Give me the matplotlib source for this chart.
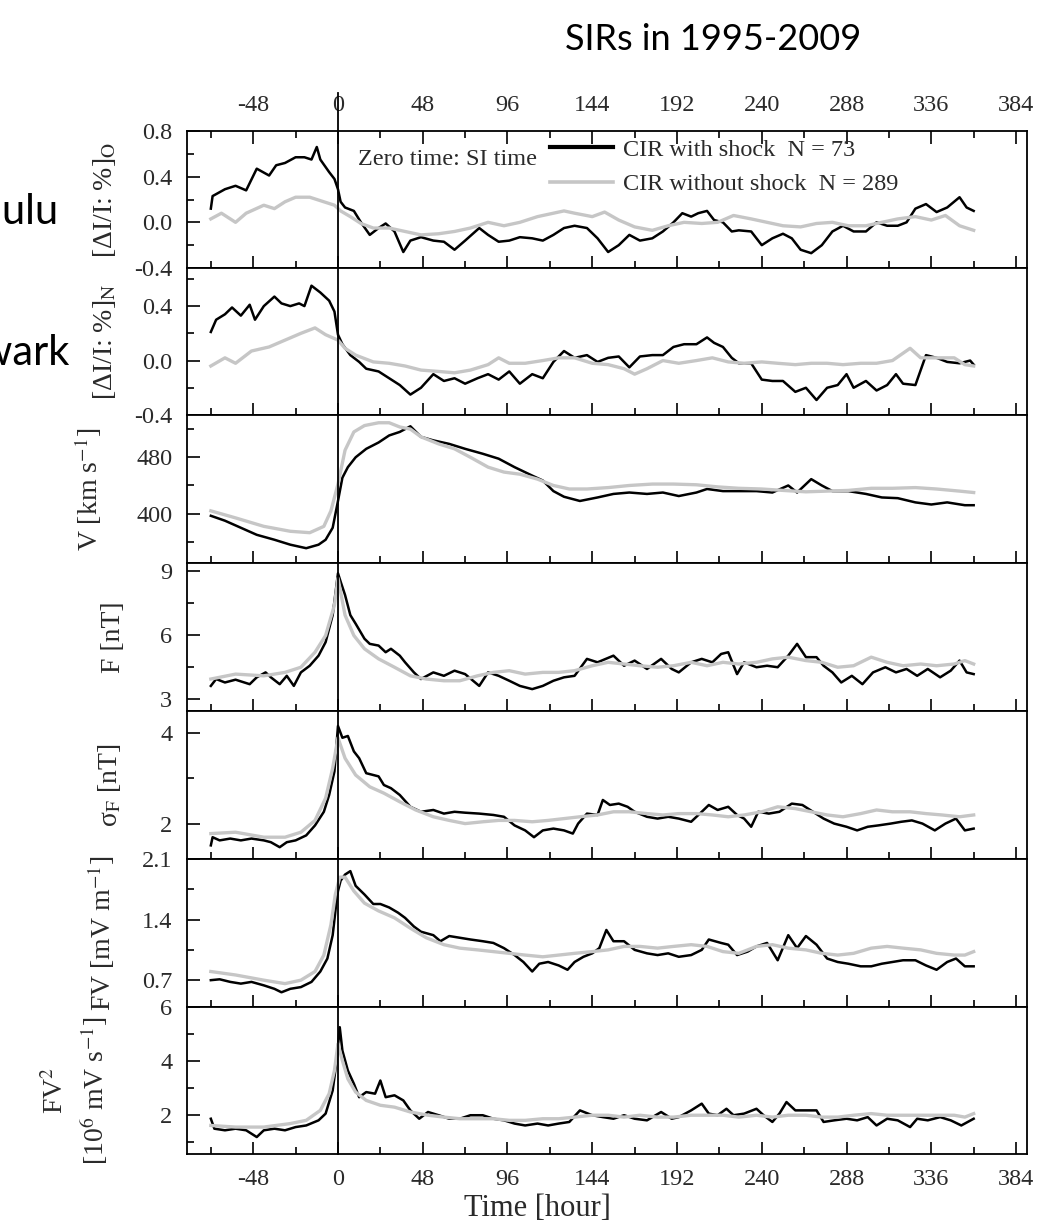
import matplotlib
matplotlib.use('Agg')
import matplotlib.pyplot as plt
from matplotlib.ticker import MultipleLocator, FormatStrFormatter
from matplotlib.lines import Line2D

plt.rcParams['font.family'] = ['Liberation Serif', 'DejaVu Serif']
plt.rcParams['mathtext.fontset'] = 'stix'
plt.rcParams['axes.unicode_minus'] = False

# ---- data (hours relative to SI time) ----
# Honolulu cosmic ray [dI/I %]
t_hon_b = [-72, -71, -64, -58, -52, -46, -39, -35, -30, -24, -19, -15, -12, -10, -5, -2, 0, 1.5, 4, 9,
           13, 18, 23, 27, 32, 37, 41, 47, 54, 60, 66, 72, 80, 85, 91, 97, 103, 110, 116, 122,
           128, 134, 141, 147, 153, 159, 165, 171, 178, 184, 190, 195, 200, 204, 209, 213, 218, 223, 227, 234,
           240, 246, 252, 257, 262, 268, 274, 280, 286, 292, 299, 305, 311, 317, 322, 327, 333, 339, 345, 352,
           356, 360]
hon_b = [0.12, 0.23, 0.29, 0.32, 0.28, 0.47, 0.41, 0.50, 0.52, 0.57, 0.57, 0.55, 0.66, 0.55, 0.44, 0.38, 0.29, 0.18, 0.13, 0.10,
         0.0, -0.11, -0.05, -0.01, -0.08, -0.26, -0.16, -0.13, -0.16, -0.17, -0.24, -0.16, -0.05, -0.11, -0.17, -0.16, -0.13, -0.14, -0.16, -0.11,
         -0.05, -0.03, -0.05, -0.14, -0.26, -0.20, -0.11, -0.16, -0.14, -0.08, 0.0, 0.08, 0.05, 0.08, 0.10, 0.02, 0.0, -0.08, -0.07, -0.08,
         -0.20, -0.14, -0.10, -0.14, -0.24, -0.27, -0.20, -0.08, -0.03, -0.08, -0.08, 0.0, -0.03, -0.03, 0.0, 0.12, 0.16, 0.09, 0.13, 0.22,
         0.13, 0.10]
t_hon_g = [-72, -66, -58, -52, -42, -36, -30, -24, -16, -8, -2, 1.5, 7, 13, 20, 29, 38, 47, 57, 66,
           75, 85, 94, 103, 113, 122, 128, 134, 144, 151, 159, 168, 178, 187, 196, 206, 215, 224, 234, 243,
           252, 262, 271, 280, 289, 299, 308, 317, 327, 336, 344, 352, 360]
hon_g = [0.03, 0.08, 0.0, 0.08, 0.15, 0.12, 0.18, 0.22, 0.22, 0.18, 0.15, 0.10, 0.05, -0.01, -0.05, -0.05, -0.08, -0.11, -0.10, -0.08,
         -0.05, 0.0, -0.03, 0.0, 0.05, 0.08, 0.10, 0.08, 0.05, 0.09, 0.02, -0.04, -0.07, -0.03, 0.0, -0.01, 0.0, 0.06, 0.03, 0.0,
         -0.03, -0.04, -0.01, 0.0, -0.03, -0.03, 0.0, 0.03, 0.05, 0.02, 0.06, -0.03, -0.07]

# Newark cosmic ray [dI/I %]
t_new_b = [-72, -69, -64, -60, -55, -50, -47, -42, -36, -32, -27, -22, -19, -15, -10, -5, -2, 0, 2.5, 7,
           12, 16, 23, 29, 35, 41, 47, 54, 60, 66, 72, 79, 85, 91, 97, 103, 110, 116, 122, 128,
           134, 141, 147, 153, 159, 165, 171, 178, 184, 190, 196, 203, 209, 213, 218, 223, 227, 234, 240, 246,
           252, 259, 265, 271, 277, 283, 288, 292, 299, 305, 311, 316, 320, 327, 333, 339, 345, 352, 358, 360]
new_b = [0.21, 0.30, 0.34, 0.39, 0.33, 0.41, 0.30, 0.40, 0.47, 0.42, 0.40, 0.42, 0.40, 0.55, 0.50, 0.44, 0.36, 0.19, 0.12, 0.04,
         -0.01, -0.06, -0.08, -0.13, -0.18, -0.25, -0.20, -0.10, -0.15, -0.13, -0.17, -0.13, -0.10, -0.14, -0.08, -0.17, -0.10, -0.13, -0.01, 0.07,
         0.02, 0.04, -0.01, 0.02, 0.03, -0.05, 0.03, 0.04, 0.04, 0.10, 0.12, 0.12, 0.17, 0.13, 0.10, 0.02, -0.02, -0.02, -0.14, -0.15,
         -0.15, -0.23, -0.20, -0.29, -0.20, -0.18, -0.10, -0.20, -0.15, -0.22, -0.18, -0.10, -0.17, -0.18, 0.04, 0.02, -0.01, -0.02, 0.0, -0.03]
t_new_g = [-72, -64, -58, -49, -39, -30, -21, -13, -7, 0, 4, 10, 20, 29, 38, 47, 57, 66, 75, 85,
           91, 97, 106, 116, 125, 134, 144, 153, 162, 168, 175, 184, 193, 203, 212, 221, 230, 240, 249, 259,
           268, 277, 286, 296, 305, 314, 324, 330, 339, 349, 355, 360]
new_g = [-0.04, 0.02, -0.02, 0.07, 0.10, 0.15, 0.20, 0.24, 0.19, 0.15, 0.09, 0.04, -0.01, -0.02, -0.04, -0.07, -0.08, -0.09, -0.07, -0.03,
         0.02, -0.02, -0.02, 0.0, 0.02, 0.02, -0.02, -0.03, -0.06, -0.10, -0.06, 0.0, -0.02, 0.0, 0.02, -0.01, -0.02, -0.01, -0.02, -0.03,
         -0.02, -0.02, -0.03, -0.02, -0.02, 0.0, 0.09, 0.02, 0.02, 0.02, -0.03, -0.04]

# solar wind speed V [km/s]
t_v_b = [-72, -64, -55, -46, -36, -27, -18, -11, -7, -3, 0, 2.5, 5.6, 10, 16, 23, 29, 35, 41, 47,
         54, 63, 72, 82, 91, 100, 110, 116, 122, 128, 137, 147, 156, 165, 175, 184, 193, 203, 209, 218,
         227, 237, 246, 255, 260, 268, 274, 280, 289, 299, 308, 317, 327, 336, 345, 355, 360]
v_b = [397, 390, 380, 370, 363, 356, 351, 356, 363, 380, 418, 451, 466, 480, 492, 501, 511, 516, 524, 509,
       504, 499, 492, 485, 478, 466, 454, 447, 432, 424, 418, 423, 428, 430, 428, 430, 425, 430, 435, 432,
       432, 432, 430, 440, 430, 449, 440, 432, 432, 428, 423, 422, 416, 413, 416, 412, 412]
t_v_g = [-72, -58, -42, -27, -16, -8, -4, 0, 4, 9, 15, 23, 29, 35, 41, 47, 57, 66, 75, 85,
         94, 103, 113, 122, 131, 141, 153, 165, 178, 190, 203, 215, 227, 240, 252, 265, 277, 289, 302, 314,
         327, 339, 352, 360]
v_g = [404, 394, 382, 375, 373, 382, 404, 442, 490, 516, 525, 529, 529, 523, 520, 509, 499, 492, 480, 466,
       459, 456, 449, 440, 435, 435, 437, 440, 442, 442, 441, 438, 436, 435, 433, 431, 432, 433, 436, 436,
       437, 435, 432, 430]

# IMF magnitude F [nT]
t_f_b = [-72, -69, -64, -58, -50, -46, -41, -38, -33, -29, -25, -21, -16, -11, -7, -3, 0, 1.5, 4, 7,
         10, 15, 18, 23, 27, 30, 35, 38, 43, 47, 54, 60, 66, 72, 80, 85, 91, 97, 103, 110,
         116, 122, 128, 134, 141, 147, 156, 162, 168, 175, 183, 189, 193, 200, 206, 212, 217, 221, 226, 230,
         237, 243, 249, 255, 260, 265, 271, 275, 280, 285, 291, 297, 303, 310, 316, 322, 328, 334, 341, 347,
         352, 356, 360]
f_b = [3.62, 3.94, 3.78, 3.91, 3.70, 4.02, 4.25, 4.02, 3.70, 4.09, 3.62, 4.25, 4.56, 5.03, 5.66, 6.92, 8.87, 8.48, 7.86, 6.92,
       6.52, 5.82, 5.58, 5.5, 5.19, 5.35, 5.03, 4.72, 4.25, 3.94, 4.25, 4.09, 4.33, 4.17, 3.62, 4.25, 4.09, 3.86, 3.62, 3.47,
       3.62, 3.86, 4.02, 4.09, 4.88, 4.72, 5.03, 4.56, 4.80, 4.41, 4.88, 4.41, 4.25, 4.72, 4.88, 4.72, 5.11, 5.19, 4.17, 4.72,
       4.49, 4.56, 4.49, 5.03, 5.58, 4.96, 4.96, 4.56, 4.25, 3.78, 4.09, 3.70, 4.25, 4.49, 4.25, 4.41, 4.09, 4.41, 4.02, 4.33,
       4.80, 4.25, 4.17]
t_f_g = [-72, -58, -42, -30, -21, -13, -7, -2, 0, 4, 9, 15, 23, 32, 41, 50, 60, 69, 79, 88,
         97, 106, 116, 125, 134, 144, 153, 162, 171, 181, 190, 200, 209, 218, 227, 237, 246, 255, 265, 274,
         283, 292, 302, 311, 320, 330, 339, 349, 355, 360]
f_g = [3.94, 4.17, 4.09, 4.25, 4.49, 5.19, 5.97, 7.39, 8.64, 6.92, 5.97, 5.35, 4.88, 4.49, 4.09, 3.94, 3.86, 3.86, 4.09, 4.25,
       4.33, 4.17, 4.25, 4.25, 4.33, 4.56, 4.72, 4.64, 4.56, 4.49, 4.56, 4.72, 4.56, 4.72, 4.64, 4.72, 4.88, 4.96, 4.80, 4.72,
       4.49, 4.56, 4.96, 4.72, 4.56, 4.64, 4.56, 4.64, 4.80, 4.64]

# IMF fluctuation sigma_F [nT]
t_s_b = [-72, -71, -67, -61, -55, -49, -42, -38, -33, -29, -24, -18, -13, -8, -5, -2, 0, 2.5, 5.6, 9,
         12, 16, 23, 26, 30, 35, 41, 47, 54, 60, 66, 72, 80, 88, 94, 100, 106, 111, 116, 122,
         128, 133, 136, 141, 147, 150, 154, 159, 164, 168, 175, 181, 187, 193, 200, 206, 210, 215, 221, 226,
         230, 234, 238, 244, 250, 257, 263, 269, 275, 281, 288, 294, 300, 306, 313, 319, 325, 331, 338, 344,
         350, 355, 360]
s_b = [1.52, 1.70, 1.63, 1.67, 1.63, 1.67, 1.63, 1.59, 1.48, 1.59, 1.63, 1.74, 1.96, 2.26, 2.63, 3.15, 4.15, 3.89, 3.93, 3.59,
       3.44, 3.11, 3.04, 2.85, 2.78, 2.63, 2.37, 2.26, 2.30, 2.22, 2.26, 2.24, 2.22, 2.19, 2.15, 1.96, 1.85, 1.70, 1.85, 1.89,
       1.85, 1.78, 2.0, 2.22, 2.19, 2.52, 2.41, 2.44, 2.37, 2.26, 2.15, 2.11, 2.15, 2.11, 2.04, 2.26, 2.41, 2.30, 2.37, 2.19,
       2.11, 1.93, 2.26, 2.22, 2.26, 2.44, 2.41, 2.26, 2.11, 2.0, 1.93, 1.85, 1.93, 1.96, 2.0, 2.04, 2.07, 2.0, 1.85, 2.0,
       2.11, 1.85, 1.89]
t_s_g = [-72, -58, -42, -30, -21, -13, -7, -3, 0, 4, 10, 18, 26, 35, 44, 54, 63, 72, 82, 91,
         100, 110, 119, 128, 137, 147, 156, 165, 175, 184, 193, 203, 212, 221, 230, 240, 249, 259, 268, 277,
         286, 296, 305, 314, 324, 333, 342, 352, 360]
s_g = [1.78, 1.81, 1.70, 1.70, 1.81, 2.07, 2.56, 3.22, 3.89, 3.44, 3.07, 2.81, 2.67, 2.48, 2.30, 2.15, 2.07, 2.0, 2.04, 2.07,
       2.07, 2.04, 2.07, 2.11, 2.15, 2.19, 2.26, 2.26, 2.22, 2.19, 2.22, 2.22, 2.19, 2.15, 2.19, 2.26, 2.37, 2.33, 2.26, 2.19,
       2.15, 2.22, 2.30, 2.26, 2.26, 2.22, 2.19, 2.15, 2.19]

# FV [mV/m]
t_fv_b = [-72, -67, -61, -55, -49, -42, -36, -32, -27, -21, -15, -10, -6, -3, -1, 0, 1.5, 4, 7, 10,
          15, 20, 24, 29, 34, 38, 43, 47, 54, 58, 63, 69, 75, 82, 88, 94, 100, 105, 110, 114,
          119, 125, 130, 134, 139, 144, 148, 152, 156, 162, 168, 175, 181, 187, 193, 200, 206, 210, 217, 221,
          226, 232, 237, 243, 249, 255, 260, 265, 271, 277, 283, 289, 296, 302, 308, 314, 320, 327, 333, 339,
          345, 350, 355, 360]
fv_b = [0.70, 0.71, 0.68, 0.66, 0.68, 0.64, 0.60, 0.56, 0.60, 0.62, 0.68, 0.80, 0.95, 1.22, 1.58, 1.73, 1.85, 1.92, 1.96, 1.79,
        1.69, 1.58, 1.58, 1.54, 1.48, 1.42, 1.32, 1.26, 1.22, 1.15, 1.21, 1.19, 1.17, 1.15, 1.13, 1.07, 0.99, 0.91, 0.80, 0.89,
        0.91, 0.87, 0.82, 0.91, 0.97, 1.01, 1.07, 1.28, 1.15, 1.15, 1.05, 1.01, 0.99, 1.01, 0.97, 0.99, 1.05, 1.17, 1.13, 1.11,
        0.99, 1.03, 1.09, 1.13, 0.93, 1.22, 1.07, 1.21, 1.11, 0.95, 0.91, 0.89, 0.86, 0.86, 0.89, 0.91, 0.93, 0.93, 0.87, 0.82,
        0.91, 0.95, 0.86, 0.86]
t_fv_g = [-72, -58, -42, -30, -21, -13, -8, -4, -1.5, 1, 4, 9, 15, 23, 32, 41, 50, 60, 69, 79,
          88, 97, 106, 116, 125, 134, 144, 153, 162, 171, 181, 190, 200, 209, 218, 227, 237, 246, 255, 265,
          274, 283, 292, 302, 311, 320, 330, 339, 349, 355, 360]
fv_g = [0.80, 0.76, 0.70, 0.66, 0.70, 0.80, 0.99, 1.34, 1.69, 1.89, 1.89, 1.73, 1.59, 1.50, 1.42, 1.30, 1.19, 1.11, 1.07, 1.05,
        1.03, 1.01, 0.99, 0.97, 0.99, 1.01, 1.03, 1.05, 1.09, 1.09, 1.07, 1.09, 1.11, 1.09, 1.03, 1.01, 1.09, 1.11, 1.07, 1.05,
        1.01, 0.99, 1.01, 1.07, 1.09, 1.07, 1.05, 1.01, 0.99, 0.99, 1.03]

# FV^2 [10^6 mV/s]
t_fv2_b = [-72, -70, -64, -58, -52, -46, -42, -36, -30, -24, -18, -11, -7, -3, -1, 1, 2.5, 5.6, 9, 12,
           16, 21, 24, 27, 32, 37, 41, 46, 51, 57, 63, 69, 75, 82, 88, 94, 100, 106, 113, 119,
           125, 131, 137, 144, 150, 156, 162, 168, 175, 183, 189, 193, 200, 206, 210, 215, 220, 224, 230, 237,
           241, 246, 250, 254, 259, 265, 271, 275, 281, 288, 294, 300, 305, 311, 317, 324, 328, 334, 341, 347,
           353, 360]
fv2_b = [1.85, 1.48, 1.42, 1.48, 1.42, 1.17, 1.42, 1.48, 1.42, 1.54, 1.60, 1.79, 2.04, 2.90, 3.89, 5.25, 4.38, 3.64, 3.15, 2.65,
         2.84, 2.78, 3.27, 2.65, 2.72, 2.53, 2.16, 1.85, 2.10, 1.98, 1.85, 1.85, 1.98, 1.98, 1.85, 1.79, 1.67, 1.60, 1.67, 1.60,
         1.67, 1.73, 2.16, 1.98, 1.91, 1.85, 1.98, 1.85, 1.79, 2.10, 1.85, 1.91, 2.16, 2.41, 2.04, 1.98, 2.22, 1.98, 2.04, 2.22,
         1.98, 1.73, 2.04, 2.47, 2.16, 2.16, 2.16, 1.73, 1.79, 1.85, 1.79, 1.91, 1.60, 1.85, 1.79, 1.54, 1.85, 1.79, 1.91, 1.79,
         1.60, 1.85]
t_fv2_g = [-72, -58, -42, -27, -18, -10, -5, -2, 0, 2.5, 5.6, 10, 16, 24, 32, 41, 51, 60, 69, 79,
           88, 97, 106, 116, 125, 134, 144, 153, 162, 171, 181, 190, 200, 209, 218, 227, 237, 246, 255, 265,
           274, 283, 292, 302, 311, 320, 330, 339, 349, 355, 360]
fv2_g = [1.60, 1.54, 1.54, 1.67, 1.79, 2.16, 2.78, 3.64, 4.63, 4.01, 3.33, 2.84, 2.53, 2.35, 2.28, 2.10, 1.98, 1.91, 1.85, 1.85,
         1.85, 1.79, 1.79, 1.85, 1.85, 1.91, 1.98, 1.98, 1.91, 1.98, 1.91, 1.91, 1.98, 1.98, 1.98, 1.91, 1.98, 1.91, 1.98, 1.98,
         1.91, 1.91, 1.98, 2.04, 1.98, 1.98, 1.98, 1.98, 1.98, 1.91, 2.04]

ylabels = ['[ΔI/I: %]$_\\mathrm{O}$', '[ΔI/I: %]$_\\mathrm{N}$', 'V [km s$^{-1}$]', 'F [nT]',
           'σ$_\\mathrm{F}$ [nT]', 'FV [mV m$^{-1}$]', 'FV$^2$\n[10$^6$ mV s$^{-1}$]']
ylims = [(-0.4, 0.8), (-0.4, 0.68), (330, 540), (2.45, 9.35), (1.22, 4.48), (0.39, 2.1), (0.54, 6.0)]
ymajor = [[-0.4, 0.0, 0.4, 0.8], [-0.4, 0.0, 0.4], [400, 480], [3, 6, 9], [2, 4], [0.7, 1.4, 2.1], [2, 4, 6]]
yminor = [[-0.2, 0.2, 0.6], [-0.2, 0.2, 0.6], [360, 440, 520], [4.5, 7.5], [3], [1.05, 1.75], [1, 3, 5]]
yfmt = ['%.1f', '%.1f', '%d', '%d', '%d', '%.1f', '%d']
black = [(t_hon_b, hon_b), (t_new_b, new_b), (t_v_b, v_b), (t_f_b, f_b), (t_s_b, s_b), (t_fv_b, fv_b), (t_fv2_b, fv2_b)]
gray = [(t_hon_g, hon_g), (t_new_g, new_g), (t_v_g, v_g), (t_f_g, f_g), (t_s_g, s_g), (t_fv_g, fv_g), (t_fv2_g, fv2_g)]
label_x = [118, 118, 104, 126, 123, 117, 110]  # right edge of y label, px
label_y = [0.5, 0.5, 0.5, 0.5, 0.5, 0.5, 0.43]

W, H = 1054, 1230
edges = [131, 268, 415, 563, 711, 859, 1007, 1154]
L, R = 187, 1027
GRAY = '#c6c6c6'
TXT = '#2a2a2a'

fig = plt.figure(figsize=(W / 100, H / 100), dpi=100)
axes = []
for i in range(7):
    ax = fig.add_axes([L / W, 1 - edges[i + 1] / H, (R - L) / W, (edges[i + 1] - edges[i]) / H])
    axes.append(ax)
    ax.plot(black[i][0], black[i][1], color='black', lw=1.8, zorder=2)
    ax.plot(gray[i][0], gray[i][1], color=GRAY, lw=2.4, zorder=3)
    ax.set_xlim(-85.5, 390.2)
    ax.set_ylim(*ylims[i])
    ax.xaxis.set_major_locator(MultipleLocator(48))
    ax.xaxis.set_minor_locator(MultipleLocator(24))
    ax.set_yticks(ymajor[i])
    ax.set_yticks(yminor[i], minor=True)
    ax.yaxis.set_major_formatter(FormatStrFormatter(yfmt[i]))
    ax.tick_params(which='both', direction='in', top=(i == 0), bottom=True, left=True, right=False,
                   labelbottom=(i == 6), labeltop=(i == 0), labelsize=17.5, labelcolor=TXT, width=1.2, pad=10.5)
    ax.tick_params(which='major', length=9)
    ax.tick_params(which='minor', length=5)
    for s in ax.spines.values():
        s.set_linewidth(1.3)
    ax.set_ylabel(ylabels[i], fontsize=20, color=TXT, linespacing=1.35)
    ax.yaxis.set_label_coords((label_x[i] - L) / (R - L), label_y[i])

axes[6].set_xlabel('Time [hour]', fontsize=22, color=TXT)
axes[6].xaxis.set_label_coords((537 - L) / (R - L), -0.27)

# zero-time line across all panels
x0 = fig.transFigure.inverted().transform(axes[0].transData.transform((0, 0)))[0]
fig.add_artist(Line2D([x0, x0], [1 - 1154 / H, 1 - 93 / H], color='black', lw=1.3))

ax = axes[0]
ax.text(0.2036, 0.79, 'Zero time: SI time', transform=ax.transAxes, fontsize=17.5, color=TXT, va='center')
handles = [Line2D([], [], color='black', lw=3.0), Line2D([], [], color=GRAY, lw=2.6)]
ax.legend(handles, ['CIR with shock  N = 73', 'CIR without shock  N = 289'], loc='upper left',
          bbox_to_anchor=((550 - L) / (R - L), 0.945), frameon=False, fontsize=17.5, borderpad=0.0,
          borderaxespad=0, handlelength=2.6, handletextpad=0.4, labelspacing=0.52, labelcolor=TXT)

fig.text(713 / W, 1 - 40 / H, 'SIRs in 1995-2009', family='Lato', fontsize=26, ha='center', va='center')
fig.text(58 / W, 1 - 224 / H, 'Honolulu', family='Lato', fontsize=30, ha='right', va='baseline')
fig.text(70 / W, 1 - 365 / H, 'Newark', family='Lato', fontsize=30, ha='right', va='baseline')

fig.savefig('out.png', dpi=100)
